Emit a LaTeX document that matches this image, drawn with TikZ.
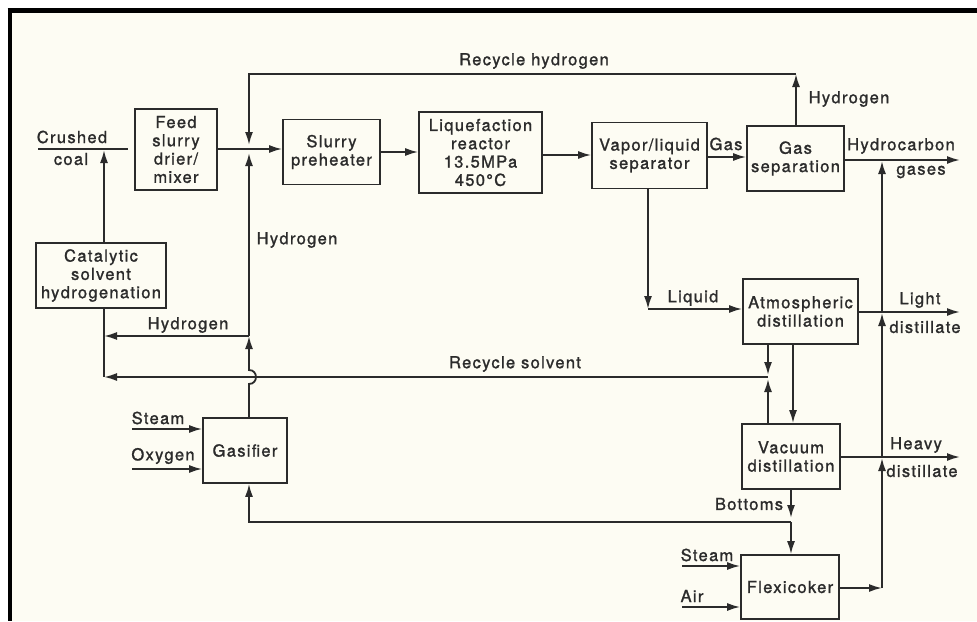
\documentclass[tikz,border=0pt]{standalone}
\usepackage{fontspec}
\newfontfamily\heros[LetterSpace=8,FakeBold=1.3]{TeX Gyre Heros}
\usetikzlibrary{arrows.meta,calc}
\definecolor{paper}{HTML}{FDFCF3}
\definecolor{ink}{HTML}{2B2B2B}
\tikzset{
  every node/.style={text=ink},
  box/.style={draw=ink, line width=1.7pt, inner sep=0pt, align=center,
    font=\heros\fontsize{16.5}{18.3}\selectfont},
  lbl/.style={inner sep=0pt, font=\heros\fontsize{16.5}{18.3}\selectfont},
  ln/.style={draw=ink, line width=1.8pt},
  arr/.style={ln, -{Latex[length=13pt,width=8pt]}},
}
\begin{document}
\begin{tikzpicture}[x=1pt,y=-1pt]
\useasboundingbox (0,0) rectangle (977,621);
\fill[white] (0,0) rectangle (977,621);
\fill[paper] (10,10) rectangle (977,621);
\draw[line width=4.5pt,black] (7.5,10.5) -- (977,10.5);
\draw[line width=4.5pt,black] (9.8,8.3) -- (9.8,621);

% boxes
\node[box, minimum width=82pt, minimum height=81pt] (feed) at (176,149.5) {Feed\\slurry\\drier/\\mixer};
\node[box, minimum width=97pt, minimum height=65pt] (pre) at (331.5,152) {Slurry\\preheater};
\node[box, minimum width=123pt, minimum height=81pt] (reac) at (480.5,152.5) {Liquefaction\\reactor\\13.5MPa\\450°C};
\node[box, minimum width=115pt, minimum height=66pt] (vls) at (649.5,155.5) {Vapor/liquid\\separator};
\node[box, minimum width=97pt, minimum height=65pt] (gsep) at (795.5,158.5) {Gas\\separation};
\node[box, minimum width=115pt, minimum height=65pt] (atm) at (800.5,311.5) {Atmospheric\\distillation};
\node[box, minimum width=98pt, minimum height=65pt] (vac) at (791,456.5) {Vacuum\\distillation};
\node[box, minimum width=98pt, minimum height=64pt] (flex) at (790,587) {Flexicoker};
\node[box, minimum width=84pt, minimum height=65pt] (gas) at (245,450.5) {Gasifier};
\node[box, minimum width=130pt, minimum height=65pt] (cat) at (101,275.5) {Catalytic\\solvent\\hydrogenation};

% coordinates
\coordinate (cc) at (38,149);
\coordinate (ccend) at (128,149);
\coordinate (J1) at (249,149);
\coordinate (J1a) at (249,145);
\coordinate (J1b) at (249,153);
\coordinate (RHl) at (249,74);
\coordinate (RHr) at (796,74);
\coordinate (CatUp) at (104,150);
\coordinate (H2j) at (249,336);
\coordinate (H2l) at (104,336);
\coordinate (RSl) at (104,377);
\coordinate (RSr) at (768,377);
\coordinate (RSa) at (768,375);
\coordinate (RSb) at (768,379);
\coordinate (hopB) at (249,384);
\coordinate (hopT) at (249,370);
\coordinate (y155) at (0,155);
\coordinate (y157) at (0,157);
\coordinate (HCend) at (960,160);
\coordinate (LiqC) at (648,309);
\coordinate (LDend) at (960,312);
\coordinate (AX2) at (793,0);
\coordinate (HDend) at (960,457);
\coordinate (BotJ) at (791,522);
\coordinate (BotJa) at (791,518);
\coordinate (GasRet) at (249,522);
\coordinate (VertB) at (882,588);
\coordinate (V1) at (882,458);
\coordinate (V1s) at (882,457);
\coordinate (V2) at (882,313);
\coordinate (V2s) at (882,312);
\coordinate (V3) at (882,161);
\coordinate (StG) at (132,429);
\coordinate (OxG) at (132,469);
\coordinate (StF) at (682,566);
\coordinate (AiF) at (682,607);

% top row
\draw[ln] (cc) -- (ccend);
\draw[arr] (feed.east |- J1) -- (pre.west |- J1);
\draw[arr] (pre.east) -- (reac.west |- pre.east);
\draw[arr] (reac.east |- y155) -- (vls.west |- y155);
\draw[arr] (vls.east |- y157) -- (gsep.west |- y157);
\draw[arr] (gsep.east |- HCend) -- (HCend);
\draw[arr] (gsep.north -| RHr) -- (RHr);
\draw[arr] (RHr) -- (RHl) -- (J1a);

% hydrogen from gasifier
\draw[arr] (gas.north -| J1) -- (hopB) .. controls ($(hopB)+(9.3,0)$) and ($(hopT)+(9.3,0)$) .. (hopT) -- (H2j);
\draw[arr] (H2j) -- (J1b);
\draw[arr] (H2j) -- (H2l);

% catalytic solvent hydrogenation
\draw[ln] (cat.south -| RSl) -- (RSl);
\draw[arr] (cat.north -| CatUp) -- (CatUp);
\draw[arr] (RSr) -- (RSl);

% liquid path
\draw[arr] (vls.south -| LiqC) -- (LiqC);
\draw[arr] (LiqC) -- (atm.west |- LiqC);
\draw[arr] (atm.east |- LDend) -- (LDend);
\draw[arr] (atm.south -| RSr) -- (RSa);
\draw[arr] (vac.north -| RSr) -- (RSb);
\draw[arr] (atm.south -| AX2) -- (vac.north -| AX2);
\draw[arr] (vac.east |- HDend) -- (HDend);

% bottoms
\draw[arr] (vac.south -| BotJ) -- (BotJa);
\draw[arr] (BotJ) -- (flex.north -| BotJ);
\draw[arr] (BotJ) -- (GasRet) -- (gas.south -| GasRet);

% flexicoker output
\draw[arr] (flex.east |- VertB) -- (VertB);
\draw[arr] (VertB) -- (V1);
\draw[arr] (V1s) -- (V2);
\draw[arr] (V2s) -- (V3);

% inputs
\draw[arr] (StG) -- (gas.west |- StG);
\draw[arr] (OxG) -- (gas.west |- OxG);
\draw[arr] (StF) -- (flex.west |- StF);
\draw[arr] (AiF) -- (flex.west |- AiF);

% labels
\node[lbl] (tCrushed) at (72,137) {Crushed};
\node[lbl] (tcoal) at (71,159) {coal};
\node[lbl] (tRH) at (534,61) {Recycle hydrogen};
\node[lbl] (tH2a) at (849,99) {Hydrogen};
\node[lbl] (tGas) at (726,144) {Gas};
\node[lbl] (tHC) at (901,146) {Hydrocarbon};
\node[lbl] (tgases) at (921,172) {gases};
\node[lbl] (tH2b) at (297,240) {Hydrogen};
\node[lbl] (tH2c) at (188,325) {Hydrogen};
\node[lbl] (tLiq) at (693,298) {Liquid};
\node[lbl] (tLight) at (920,300) {Light};
\node[lbl] (tLd) at (925,327) {distillate};
\node[lbl] (tRS) at (515,364) {Recycle solvent};
\node[lbl] (tSteamG) at (158,418) {Steam};
\node[lbl] (tOxy) at (163,456) {Oxygen};
\node[lbl] (tHeavy) at (916,445) {Heavy};
\node[lbl] (tHd) at (922,471) {distillate};
\node[lbl] (tBot) at (749,504) {Bottoms};
\node[lbl] (tSteamF) at (707,555) {Steam};
\node[lbl] (tAir) at (692,596) {Air};
\end{tikzpicture}
\end{document}
